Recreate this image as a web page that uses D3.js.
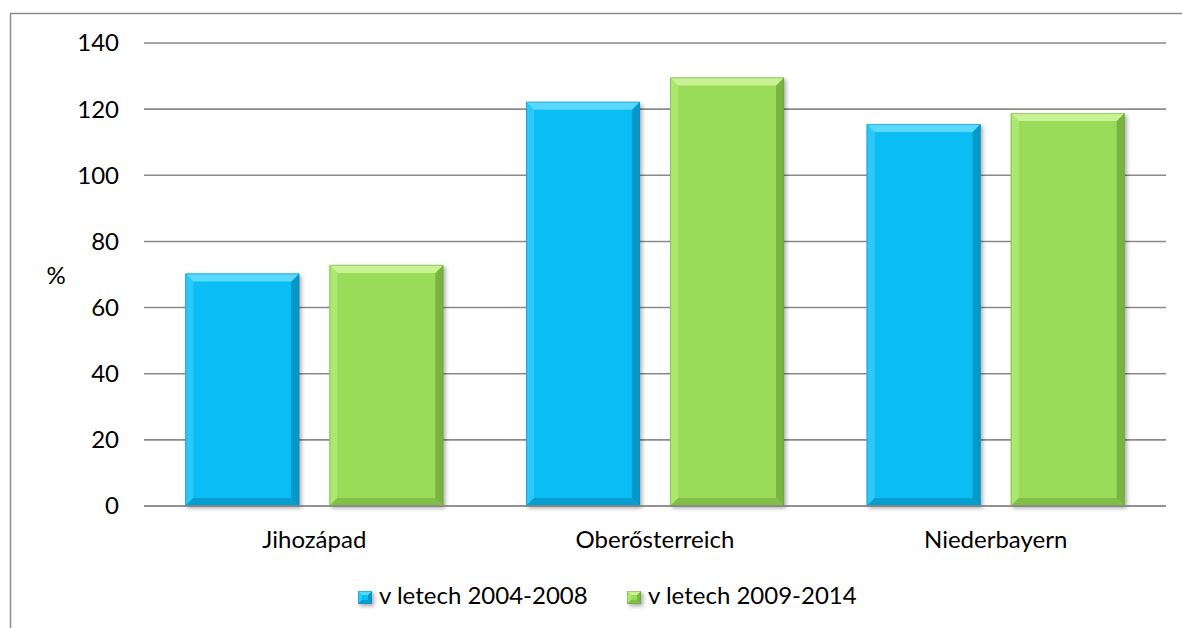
<!DOCTYPE html>
<html>
<head>
<meta charset="utf-8">
<script src="https://cdn.jsdelivr.net/npm/d3@7"></script>
<style>
  body { margin: 0; background: #fff; }
  svg text { font-family: Lato, "Open Sans", sans-serif; fill: #000; }
</style>
</head>
<body>
<script>
var categories = ['Jihozápad', 'Oberősterreich', 'Niederbayern'];
var seriesNames = ['v letech 2004-2008', 'v letech 2009-2014'];
var values2004 = [70.3, 122.2, 115.5];
var values2009 = [72.9, 129.6, 118.8];
var yTicks = [0, 20, 40, 60, 80, 100, 120, 140];

var width = 1182, height = 628;
var plotLeft = 144, plotRight = 1166, plotTop = 43, plotBottom = 506;
var fontSize = '24px';

// colours per series: main, top bevel, left bevel, right bevel, bottom bevel
var palette = [
  { main: '#0abdf4', top: '#5ad9ff', left: '#2cc8f8', right: '#0798c8', bottom: '#079fd0', stroke: '#0a86b0' },
  { main: '#9bdb5a', top: '#c9f294', left: '#ace770', right: '#78b440', bottom: '#82be48', stroke: '#6a9c3a' }
];

var svg = d3.select('body').append('svg')
  .attr('width', width)
  .attr('height', height);

var defs = svg.append('defs');
var f = defs.append('filter').attr('id', 'shadow')
  .attr('x', '-10%').attr('y', '-10%').attr('width', '130%').attr('height', '130%');
f.append('feGaussianBlur').attr('stdDeviation', 2);

// outer chart border (goes past the right / bottom edge)
svg.append('rect')
  .attr('x', 10.5).attr('y', 13.5)
  .attr('width', 1200).attr('height', 700)
  .attr('fill', 'none')
  .attr('stroke', '#8c8c8c')
  .attr('stroke-width', 1.5);

var y = d3.scaleLinear().domain([0, 140]).range([plotBottom, plotTop]);

var x0 = d3.scaleBand().domain(categories).range([plotLeft, plotRight]).padding(0);
var x1 = d3.scaleBand().domain(seriesNames).range([0, x0.bandwidth()])
  .paddingInner(0.21).paddingOuter(0.287);

// gridlines
svg.append('g')
  .selectAll('line')
  .data(yTicks)
  .join('line')
  .attr('x1', plotLeft).attr('x2', plotRight)
  .attr('y1', function (d) { return y(d); })
  .attr('y2', function (d) { return y(d); })
  .attr('stroke', '#8a8a8a')
  .attr('stroke-width', 1.6);

// tick labels
svg.append('g')
  .selectAll('text')
  .data(yTicks)
  .join('text')
  .attr('x', 119)
  .attr('y', function (d) { return y(d); })
  .attr('dy', '0.35em')
  .attr('text-anchor', 'end')
  .style('font-size', fontSize)
  .text(function (d) { return d; });

svg.append('text')
  .attr('x', 56).attr('y', 276)
  .attr('dy', '0.35em')
  .attr('text-anchor', 'middle')
  .style('font-size', fontSize)
  .text('%');

// bars
var rows = [];
categories.forEach(function (c, i) {
  rows.push({ cat: c, s: 0, v: values2004[i] });
  rows.push({ cat: c, s: 1, v: values2009[i] });
});

function drawBevelBox(g, bx, by, w, h, col, b) {
  b = Math.min(b, h / 2, w / 2);
  g.append('rect')
    .attr('x', bx + 2).attr('y', by + 2)
    .attr('width', w).attr('height', h)
    .attr('fill', 'rgba(0,0,0,0.35)')
    .attr('filter', 'url(#shadow)');
  g.append('rect')
    .attr('x', bx).attr('y', by)
    .attr('width', w).attr('height', h)
    .attr('fill', col.main);
  var pts = {
    top: [[bx, by], [bx + w, by], [bx + w - b, by + b], [bx + b, by + b]],
    left: [[bx, by], [bx + b, by + b], [bx + b, by + h - b], [bx, by + h]],
    right: [[bx + w, by], [bx + w, by + h], [bx + w - b, by + h - b], [bx + w - b, by + b]],
    bottom: [[bx, by + h], [bx + b, by + h - b], [bx + w - b, by + h - b], [bx + w, by + h]]
  };
  ['left', 'right', 'bottom', 'top'].forEach(function (k) {
    g.append('polygon')
      .attr('points', pts[k].map(function (p) { return p.join(','); }).join(' '))
      .attr('fill', col[k]);
  });
  g.append('rect')
    .attr('x', bx + 0.5).attr('y', by + 0.5)
    .attr('width', w - 1).attr('height', h - 1)
    .attr('fill', 'none')
    .attr('stroke', col.stroke)
    .attr('stroke-opacity', 0.45)
    .attr('stroke-width', 1);
}

var barG = svg.append('g');
rows.forEach(function (d) {
  var bx = x0(d.cat) + x1(seriesNames[d.s]);
  var by = y(d.v);
  drawBevelBox(barG.append('g'), bx, by, x1.bandwidth(), plotBottom - by, palette[d.s], 8);
});

// baseline on top of bars
svg.append('line')
  .attr('x1', plotLeft).attr('x2', plotRight)
  .attr('y1', plotBottom).attr('y2', plotBottom)
  .attr('stroke', '#8a8a8a')
  .attr('stroke-width', 1.6);

// category labels
svg.append('g')
  .selectAll('text')
  .data(categories)
  .join('text')
  .attr('x', function (d) { return x0(d) + x0.bandwidth() / 2; })
  .attr('y', 548)
  .attr('text-anchor', 'middle')
  .style('font-size', fontSize)
  .text(function (d) { return d; });

// legend
var legendX = [358, 627];
seriesNames.forEach(function (name, i) {
  var g = svg.append('g');
  drawBevelBox(g, legendX[i], 591, 14, 13, palette[i], 4);
  g.append('text')
    .attr('x', legendX[i] + 21)
    .attr('y', 604)
    .style('font-size', fontSize)
    .text(name);
});
</script>
</body>
</html>
